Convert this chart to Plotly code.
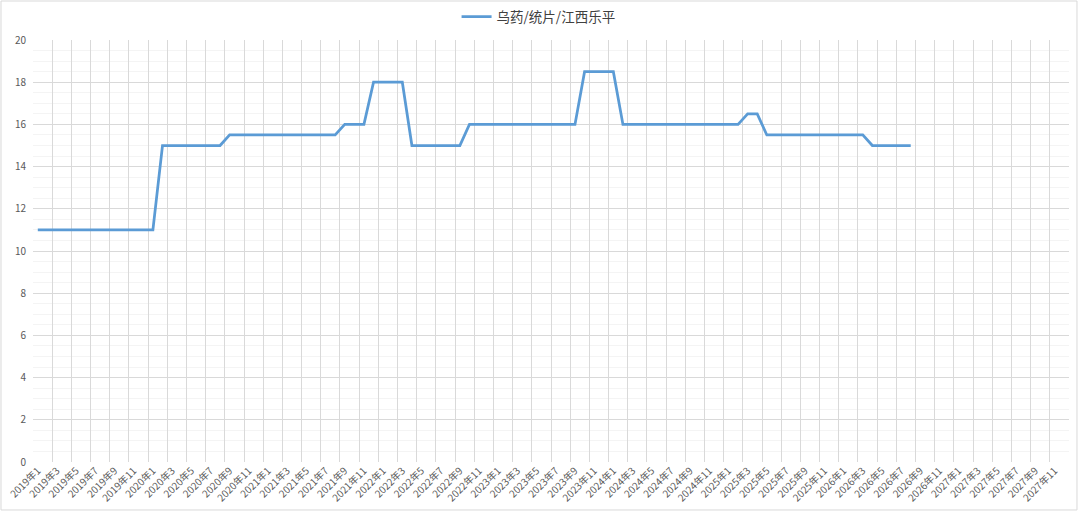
import plotly.graph_objects as go

years = [2019, 2020, 2021, 2022, 2023, 2024, 2025, 2026, 2027]
months = [f"{y}年{m}" for y in years for m in range(1, 13)]

series_name = "乌药/统片/江西乐平"
prices = [
    11, 11, 11, 11, 11, 11, 11, 11, 11, 11, 11, 11,        # 2019
    11, 15, 15, 15, 15, 15, 15, 15, 15.5, 15.5, 15.5, 15.5,  # 2020
    15.5, 15.5, 15.5, 15.5, 15.5, 15.5, 15.5, 15.5, 16, 16, 16, 18,  # 2021
    18, 18, 18, 15, 15, 15, 15, 15, 15, 16, 16, 16,        # 2022
    16, 16, 16, 16, 16, 16, 16, 16, 16, 18.5, 18.5, 18.5,  # 2023
    18.5, 16, 16, 16, 16, 16, 16, 16, 16, 16, 16, 16,      # 2024
    16, 16, 16.5, 16.5, 15.5, 15.5, 15.5, 15.5, 15.5, 15.5, 15.5, 15.5,  # 2025
    15.5, 15.5, 15.5, 15, 15, 15, 15, 15,                  # 2026
]

FONT = "Noto Sans CJK SC"
GRAY = "#595959"

fig = go.Figure()
fig.add_trace(go.Scatter(
    x=months[:len(prices)], y=prices, mode="lines", name=series_name,
    line=dict(color="#5b9bd5", width=2.75),
))

fig.update_layout(
    width=1080, height=512, autosize=False,
    margin=dict(l=33, r=11, t=40, b=50, autoexpand=False),
    paper_bgcolor="white", plot_bgcolor="white",
    font=dict(family=FONT, color=GRAY),
    showlegend=True,
    legend=dict(orientation="h", x=0.488, xanchor="center", y=1.055, yanchor="middle",
                font=dict(size=13.5, color="#404040", family=FONT), itemwidth=30,
                bgcolor="rgba(0,0,0,0)"),
    xaxis=dict(
        type="category", categoryorder="array", categoryarray=months,
        range=[-0.5, len(months) - 0.5], automargin=False,
        tickmode="linear", tick0=0, dtick=2, tickson="boundaries",
        tickangle=-45, tickfont=dict(size=10, color=GRAY, family=FONT),
        showgrid=True, gridcolor="#d9d9d9", gridwidth=1,
        ticks="", showline=False, zeroline=False, fixedrange=True,
    ),
    yaxis=dict(
        range=[0, 20], tickmode="linear", tick0=0, dtick=2, automargin=False,
        tickfont=dict(size=10, color=GRAY, family=FONT),
        showgrid=True, gridcolor="#d9d9d9", gridwidth=1,
        minor=dict(dtick=0.5, showgrid=True, gridcolor="#f4f4f4", gridwidth=1),
        ticks="", showline=False, zeroline=False, ticklabelstandoff=6,
    ),
)

fig.add_shape(type="rect", xref="paper", yref="paper",
              x0=-0.0309, x1=1.0077, y0=-0.1137, y1=1.0924,
              line=dict(color="#d9d9d9", width=1), fillcolor="rgba(0,0,0,0)", layer="below")

fig.write_html("out.html", config={"displayModeBar": False},
               post_script="document.body.style.margin='0';document.body.style.padding='0';")
